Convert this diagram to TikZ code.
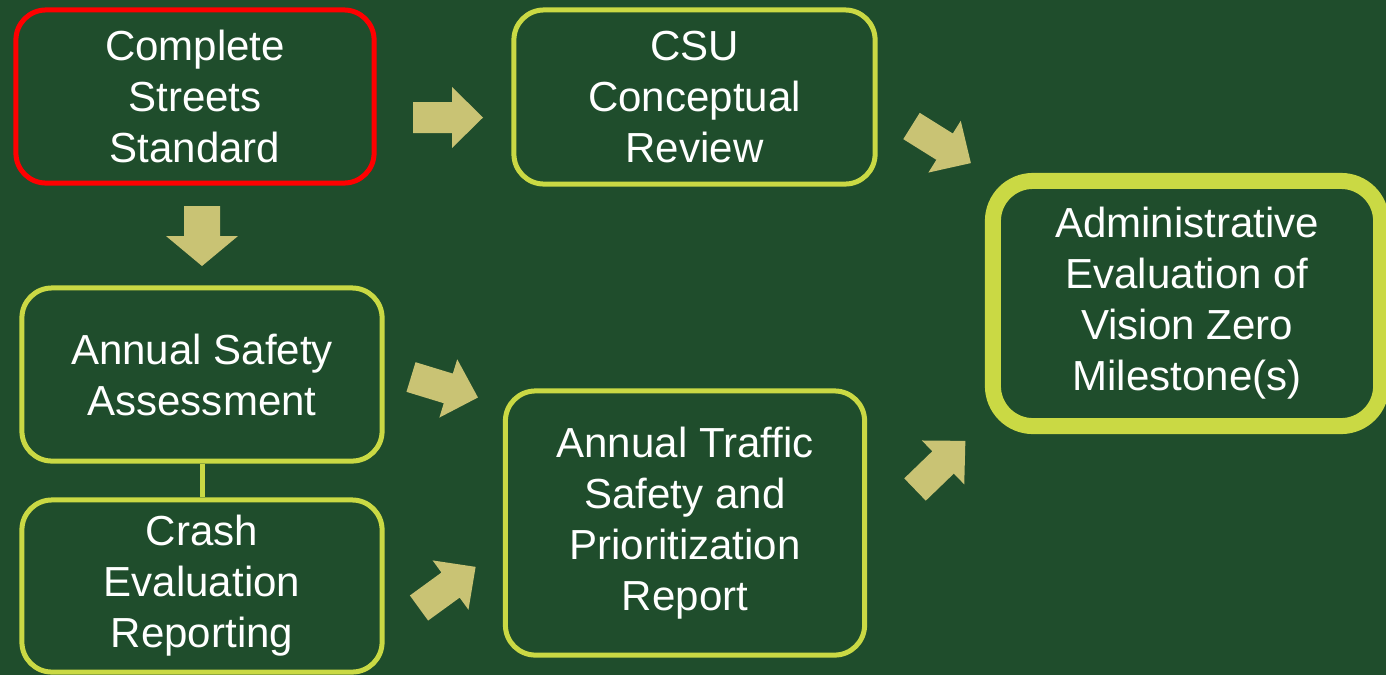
\documentclass[tikz,border=0pt]{standalone}
\usepackage{fontspec}
\setmainfont{Liberation Sans}
\usepackage{tikz}

\definecolor{boardgreen}{RGB}{31,77,44}
\definecolor{limeline}{RGB}{202,217,68}
\definecolor{khaki}{RGB}{201,195,116}
\definecolor{alertred}{RGB}{255,0,0}

% block arrow, tail centre (#1,#2), turned by #3
\newcommand{\blkarrow}[3]{%
  \fill[khaki, shift={(#1,#2)}, rotate=#3] (0,15.5) -- (39,15.5) -- (39,30.5) -- (70,0) -- (39,-30.5) -- (39,-15.5) -- (0,-15.5) -- cycle;}

\begin{document}
\begin{tikzpicture}[x=0.01cm, y=0.01cm,
  box/.style={draw=limeline, line width=0.05cm, rounded corners=0.3cm, inner sep=0pt,
    align=center, text=white, font=\fontsize{11.95}{14.5}\selectfont},
  bigbox/.style={box, line width=0.16cm, rounded corners=0.4cm}]

 \fill[boardgreen] (0,0) rectangle (1386,-675);
 \useasboundingbox (0,0) rectangle (1386,-675);

 \node[box, draw=alertred, minimum width=3.58cm, minimum height=1.73cm] (css) at (195,-96.5) {Complete\\Streets\\Standard};
 \node[box, minimum width=3.61cm, minimum height=1.74cm] (csu) at (694.5,-97) {CSU\\Conceptual\\Review};
 \node[box, minimum width=3.60cm, minimum height=1.73cm] (asa) at (202,-374.5) {Annual Safety\\Assessment};
 \node[box, minimum width=3.60cm, minimum height=1.72cm] (cer) at (202,-586) {Crash\\Evaluation\\Reporting};
 \node[box, minimum width=3.59cm, minimum height=2.64cm] (ats) at (685,-523) {Annual Traffic\\Safety and\\Prioritization\\Report};
 \node[bigbox, minimum width=3.88cm, minimum height=2.45cm] (adm) at (1187,-303.5) {Administrative\\Evaluation of\\Vision Zero\\Milestone(s)};

 \draw[limeline, line width=0.05cm] (asa.south) -- (cer.north);

 \blkarrow{413}{-117.5}{0}
 \blkarrow{911.5}{-126}{-32}
 \blkarrow{411}{-377}{-17}
 \blkarrow{419}{-608}{36}
 \blkarrow{915}{-489.5}{44}
 \fill[khaki] (184,-206) -- (220,-206) -- (220,-236) -- (238,-236) -- (202,-266) -- (166,-236) -- (184,-236) -- cycle;

\end{tikzpicture}
\end{document}
